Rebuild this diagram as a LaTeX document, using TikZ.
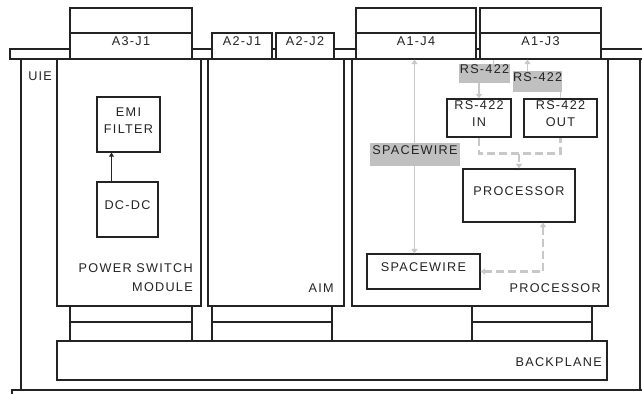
\documentclass[tikz,border=0pt]{standalone}
\usepackage{fontspec}
\setmainfont[LetterSpace=10]{Liberation Sans}
\usetikzlibrary{arrows.meta,fit,calc}
\definecolor{inkdark}{RGB}{35,35,35}
\definecolor{tagfill}{RGB}{192,192,192}
\definecolor{wiregray}{RGB}{200,200,200}

\begin{document}
\begin{tikzpicture}[x=.75pt,y=-.75pt,font=\fontsize{9.5}{12.75}\selectfont,
box/.style={draw=inkdark,line width=.8pt,fill=white,inner sep=0pt,align=center,text=inkdark},
tag/.style={fill=tagfill,inner sep=0pt,align=center,text=inkdark},
txt/.style={inner sep=0pt,text=inkdark},
wire/.style={draw=wiregray,line width=.8pt,>={Triangle[width=4.5pt,length=3.5pt]}},
dwire/.style={draw=wiregray,line width=1.6pt,dash pattern=on 6pt off 3pt,>={Triangle[width=4.5pt,length=3.5pt]}},
arr/.style={draw=inkdark,line width=.8pt,-{Triangle[width=3.5pt,length=3pt]}}]

\useasboundingbox (0,0) rectangle (642,394);
% enclosure and rails
\node[box,fill=none,fit={(21,59)(640,390)}] (uie) {};
\draw[draw=inkdark,line width=.8pt] (642,49)--(10,49)--(10,59)--(642,59);
\draw[draw=inkdark,line width=.8pt] (642,390)--(12,390)--(12,394);
\node[txt,anchor=base west] (uielbl) at (28,80) {UIE};
% modules
\node[box,fit={(57,59)(201,306)}] (psm) {};
\node[box,fit={(208,59)(344,306)}] (aim) {};
\node[box,fit={(352,59)(608,306)}] (cpm) {};
% top connectors
\node[box,fit={(70,8)(192,33)}] (j31cap) {};
\node[box,fit={(70,33)(192,59)}] (j31) {A3-J1};
\node[box,fit={(212,33)(272,59)}] (j21) {A2-J1};
\node[box,fit={(276,33)(334,59)}] (j22) {A2-J2};
\node[box,fit={(356,8)(476,33)}] (j14cap) {};
\node[box,fit={(356,33)(476,59)}] (j14) {A1-J4};
\node[box,fit={(480,8)(601,33)}] (j13cap) {};
\node[box,fit={(480,33)(601,59)}] (j13) {A1-J3};
% backplane connectors
\foreach \xa/\xb/\nm in {70/192/p,212/332/a,472/592/c}{
 \node[box,fit={(\xa,306)(\xb,322)}] (bus\nm a) {};
 \node[box,fit={(\xa,322)(\xb,341)}] (bus\nm b) {};
}
\node[box,fit={(57,341)(607,380)}] (bkp) {};
\node[txt,anchor=base east] (bkplbl) at (602,366) {BACKPLANE};
% power switch module
\node[box,fit={(97,97)(160,152)}] (emi) {EMI\\FILTER};
\node[box,fit={(97,182)(158,237)}] (dcdc) {DC-DC};
\draw[arr] ($(dcdc.north west)+(15,0)$) -- ($(emi.south west)+(15,0)$);
\node[txt,anchor=south east,align=right,font=\fontsize{9.5}{14.25}\selectfont] (psmlbl) at (193,292) {POWER SWITCH\\MODULE};
\node[txt,anchor=base east] (aimlbl) at (334,292) {AIM};
% processor module
\node[box,fit={(447,99)(511,137)}] (rsin) {RS-422\\IN};
\node[box,fit={(524,99)(597,137)}] (rsout) {RS-422\\OUT};
\node[box,fit={(463,169)(575,222)}] (cpu) {PROCESSOR};
\node[box,fit={(367,254)(480,289)}] (spw) {SPACEWIRE};
\node[txt,anchor=base east] (cpmlbl) at (601,292) {PROCESSOR};
\draw[wire,->] ($(j13.south west)+(14,0)$) -- ++(0,14) -| (rsin.north);
\draw[wire,->] (rsout.north) -- ++(0,-20) -| ($(j13.south west)+(48,0)$);
\coordinate (spwx) at ($(spw.north west)+(48,0)$);
\draw[wire,<->] (spwx |- j14.south) -- (spwx);
\coordinate (rsjoin) at ($(rsin.south)+(0,16)$);
\draw[dwire] (rsin.south) -- (rsjoin) -| (rsout.south);
\draw[dwire,->] (cpu.north |- rsjoin) -- (cpu.north);
\draw[dwire,<->] ($(cpu.south)+(24,0)$) |- (spw.east);
\node[tag,fit={(459,64)(510,83)}] (tagin) {RS-422};
\node[tag,fit={(513,71)(562,92)}] (tagout) {RS-422};
\node[tag,fit={(370,143)(460,166)}] (tagspw) {SPACEWIRE};
\end{tikzpicture}
\end{document}
